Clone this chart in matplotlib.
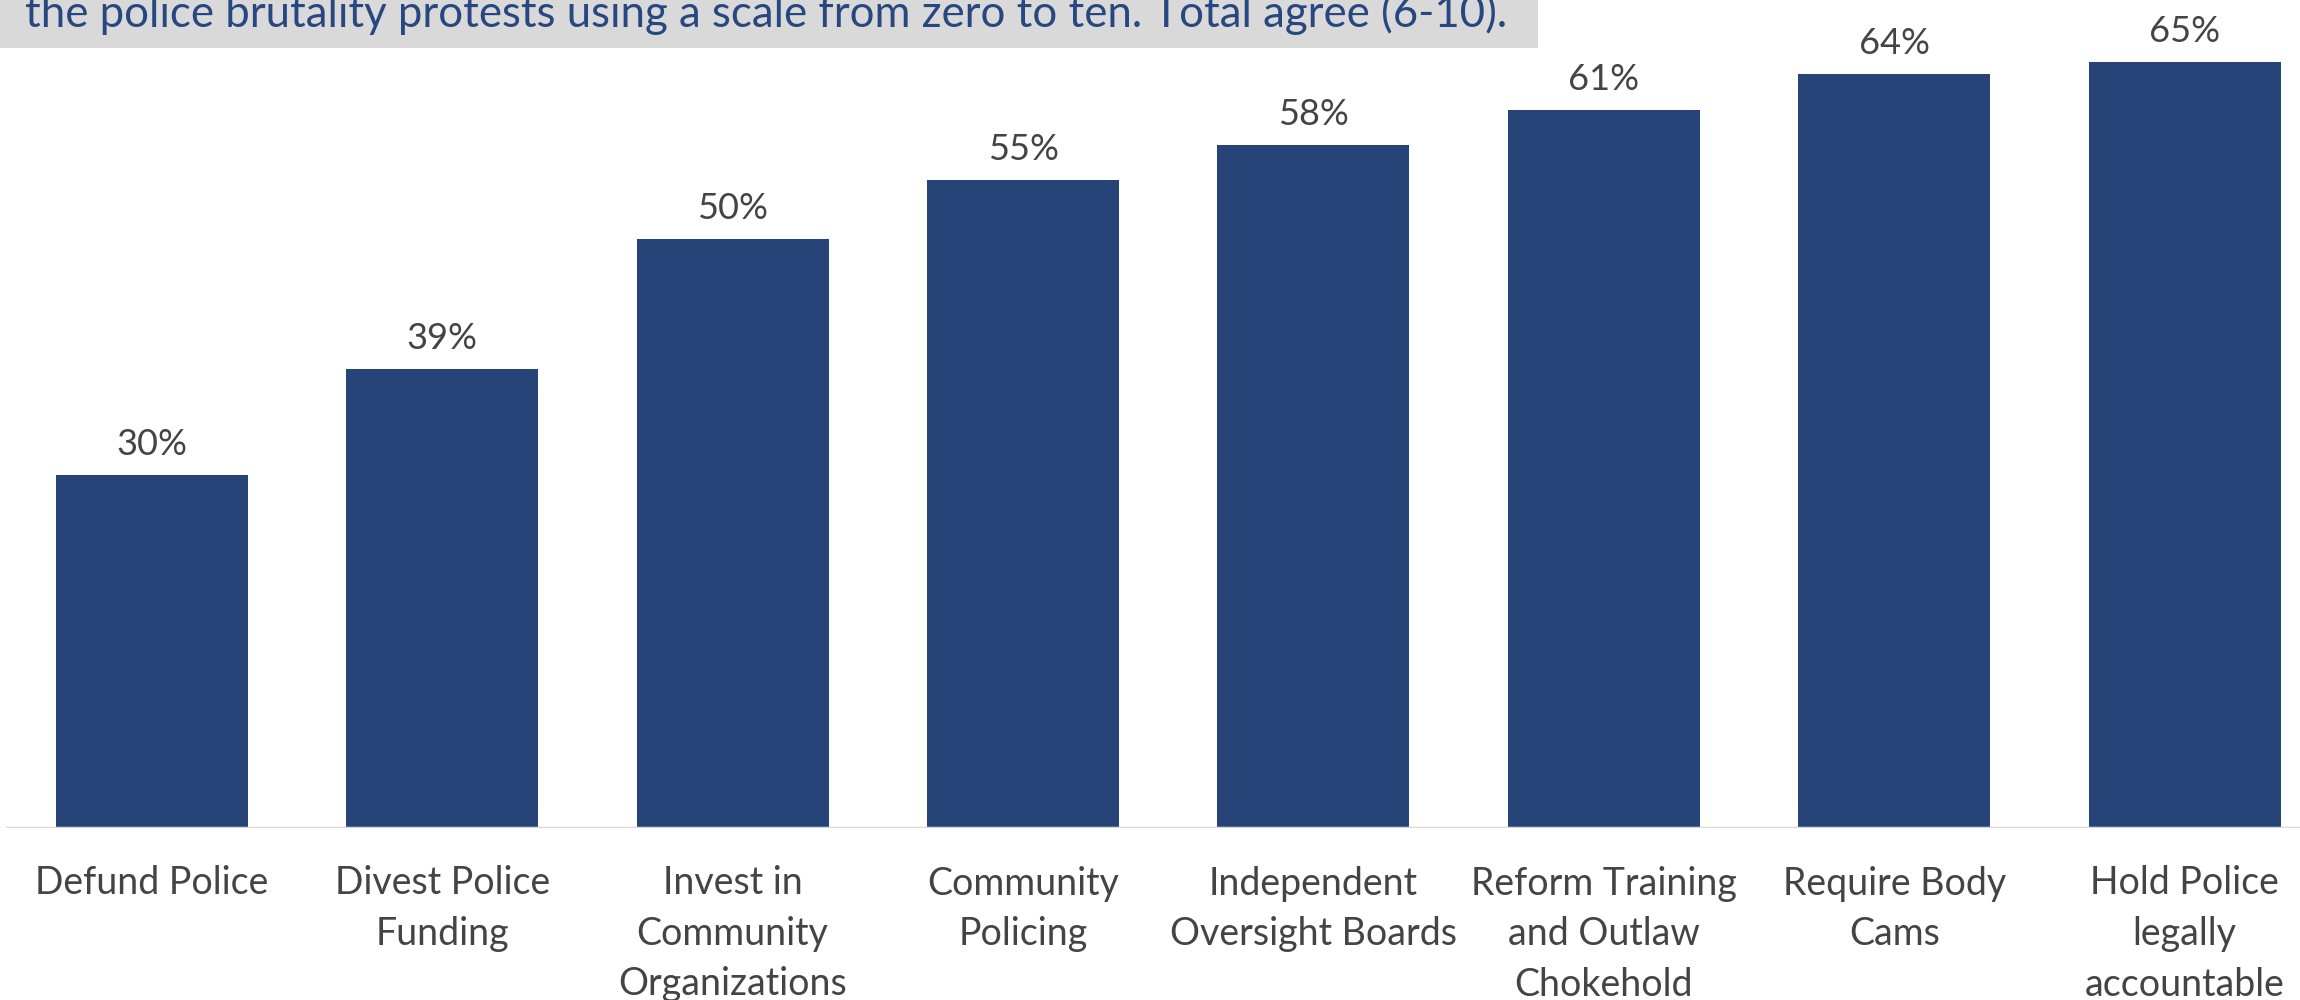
import matplotlib
matplotlib.use('Agg')
import matplotlib.pyplot as plt
from matplotlib.patches import Rectangle

categories = ['Defund Police', 'Divest Police\nFunding', 'Invest in\nCommunity\nOrganizations',
              'Community\nPolicing', 'Independent\nOversight Boards', 'Reform Training\nand Outlaw\nChokehold',
              'Require Body\nCams', 'Hold Police\nlegally\naccountable']
values = [30, 39, 50, 55, 58, 61, 64, 65]
subtitle = 'the police brutality protests using a scale from zero to ten. Total agree (6-10).'

bar_color = '#264478'
label_color = '#444444'

plt.rcParams['font.family'] = ['Lato', 'DejaVu Sans']

W, H = 2300, 1000
fig = plt.figure(figsize=(23, 10), dpi=100)

# axes spans full width, bottom at the baseline
ax = fig.add_axes([0, 172 / H, 1, 828 / H])
x = list(range(len(categories)))
ax.bar(x, values, width=0.661, color=bar_color, zorder=2)
ax.set_xlim(-0.5227, 7.397)
ax.set_ylim(0, 70.3)

for i, v in enumerate(values):
    ax.annotate(f'{v}%', (i, v), xytext=(0, 14), textcoords='offset pixels',
                ha='center', va='bottom', fontsize=26, color=label_color)

for s in ['top', 'right', 'left', 'bottom']:
    ax.spines[s].set_visible(False)
ax.axhline(0, xmin=7 / W, xmax=1, color='#d9d9d9', lw=2.5, zorder=3)
ax.set_yticks([])
ax.set_xticks(x)
ax.set_xticklabels(categories, fontsize=27, color=label_color, linespacing=1.5)
ax.tick_params(axis='x', length=0, pad=27)

# gray subtitle box at the top
fig.patches.append(Rectangle((0, 1 - 48 / H), 1538 / W, 48 / H, transform=fig.transFigure,
                             facecolor='#d9d9d9', edgecolor='none', zorder=0))
fig.text(25 / W, 1 - 27 / H, subtitle, fontsize=31.5, color='#284680', ha='left', va='baseline')

fig.savefig('out.png', dpi=100)
